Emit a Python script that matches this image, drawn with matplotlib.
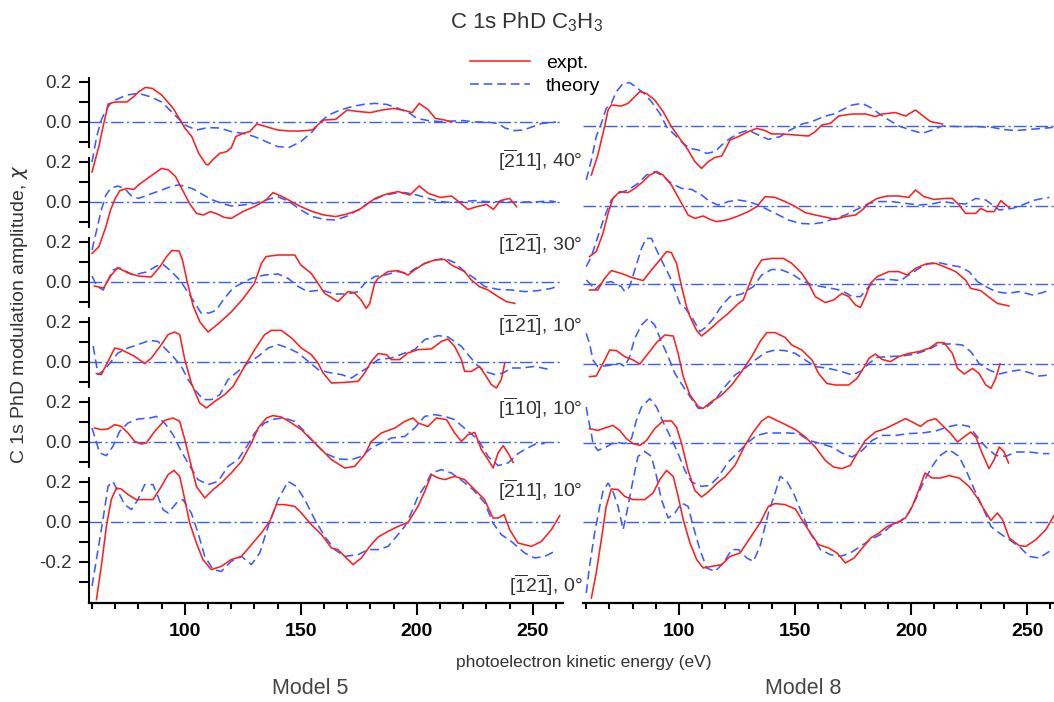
import matplotlib
matplotlib.use('Agg')
import matplotlib.pyplot as plt
from matplotlib.ticker import FixedLocator
import numpy as np

plt.rcParams['font.family'] = ['Liberation Sans', 'DejaVu Sans']
plt.rcParams['mathtext.default'] = 'regular'

RED = '#ff1f1f'
BLUE = '#3a5cff'
TXT = '#333333'

# ---- Model 5 (left), each curve as (energy eV, chi) pairs ----
m5_p1_expt = [(60, -0.25), (63, -0.12), (65, -0.01), (67, 0.09), (70, 0.10), (75, 0.10), (78, 0.127), (80, 0.15),
              (83, 0.173), (86, 0.168), (90, 0.135), (95, 0.068), (98, 0.01), (100, -0.03), (103, -0.073),
              (106, -0.157), (109, -0.21), (110, -0.215), (112, -0.19), (115, -0.157), (118, -0.148), (120, -0.13),
              (122, -0.073), (125, -0.057), (128, -0.048), (131, -0.01), (135, -0.023), (140, -0.04), (145, -0.045),
              (150, -0.045), (155, -0.04), (158, -0.007), (160, 0.01), (165, 0.013), (170, 0.06), (175, 0.052),
              (180, 0.047), (185, 0.06), (190, 0.068), (195, 0.057), (198, 0.047), (201, 0.093), (205, 0.06),
              (208, 0.018), (212, 0.01), (215, 0.0)]
m5_p1_theo = [(60, -0.2), (62, -0.073), (64, 0.01), (66, 0.06), (68, 0.093), (70, 0.11), (75, 0.135), (80, 0.143),
              (85, 0.127), (90, 0.10), (95, 0.043), (100, -0.015), (105, -0.04), (110, -0.028), (115, -0.03),
              (120, -0.048), (125, -0.057), (130, -0.073), (135, -0.098), (140, -0.123), (145, -0.127), (150, -0.098),
              (155, -0.048), (158, -0.003), (162, 0.035), (167, 0.06), (172, 0.077), (177, 0.088), (182, 0.093),
              (187, 0.088), (192, 0.068), (197, 0.043), (200, 0.018), (205, 0.007), (210, 0.002), (220, 0.007),
              (225, 0.0), (230, 0.0), (235, -0.007), (238, -0.03), (242, -0.043), (246, -0.04), (250, -0.023),
              (254, -0.007), (258, -0.003), (260, 0.0)]
m5_p2_expt = [(60, -0.257), (63, -0.223), (66, -0.123), (68, -0.04), (70, 0.018), (72, 0.057), (75, 0.068), (78, 0.063),
              (80, 0.085), (85, 0.127), (88, 0.152), (90, 0.168), (93, 0.16), (96, 0.127), (99, 0.06), (102, -0.007),
              (105, -0.057), (108, -0.065), (111, -0.048), (114, -0.06), (117, -0.077), (120, -0.082), (125, -0.048),
              (130, -0.023), (135, 0.01), (138, 0.047), (142, 0.027), (146, 0.002), (150, -0.023), (155, -0.048),
              (160, -0.065), (165, -0.073), (170, -0.06), (175, -0.04), (178, -0.015), (182, 0.018), (187, 0.04),
              (192, 0.052), (197, 0.035), (201, 0.08), (205, 0.043), (210, 0.023), (215, 0.03), (218, 0.002),
              (222, -0.037), (226, -0.023), (230, -0.012), (233, -0.037), (236, 0.007), (240, 0.018), (243, -0.023)]
m5_p2_theo = [(60, -0.24), (62, -0.14), (64, -0.04), (66, 0.035), (68, 0.068), (71, 0.08), (74, 0.068), (77, 0.03),
              (80, 0.018), (83, 0.03), (86, 0.043), (90, 0.06), (94, 0.077), (97, 0.085), (100, 0.08), (104, 0.063),
              (108, 0.035), (112, 0.01), (116, -0.007), (120, -0.02), (125, -0.015), (130, -0.007), (135, 0.01),
              (140, 0.027), (145, 0.002), (150, -0.04), (155, -0.073), (160, -0.087), (165, -0.09), (170, -0.07),
              (175, -0.037), (180, 0.002), (185, 0.03), (190, 0.043), (195, 0.047), (200, 0.035), (205, 0.018),
              (210, 0.002), (215, -0.003), (220, 0.002), (225, 0.007), (230, 0.002), (240, 0.0), (250, 0.0),
              (258, 0.005), (260, 0.0)]
m5_p3_expt = [(61, -0.02), (65, -0.03), (68, 0.03), (71, 0.072), (75.5, 0.045), (80, 0.03), (85.5, 0.025), (89.5, 0.08),
              (92, 0.125), (94.5, 0.158), (97.5, 0.155), (99, 0.11), (101, 0.003), (103.6, -0.12), (106.5, -0.2),
              (110, -0.25), (114.3, -0.21), (120, -0.15), (125, -0.085), (130, -0.007), (133, 0.093), (135, 0.127),
              (140, 0.135), (147.4, 0.135), (150, 0.085), (154.5, 0.043), (157.4, -0.007), (160.3, -0.057),
              (166, -0.098), (170.3, -0.048), (173, -0.053), (176, -0.09), (178.2, -0.132), (179.7, -0.107),
              (181.8, -0.007), (183.3, 0.018), (187.6, 0.052), (191.9, 0.057), (196.2, 0.035), (199, 0.06),
              (203.4, 0.093), (207.7, 0.11), (212, 0.113), (214.9, 0.085), (220.6, 0.052), (223.5, 0.01),
              (227, -0.023), (230.7, -0.04), (235, -0.073), (238.6, -0.098), (242.2, -0.107)]
m5_p3_theo = [(60, 0.03), (62, -0.02), (64.8, -0.04), (69, 0.06), (72, 0.07), (77.7, 0.035), (83.5, 0.05), (87.8, 0.08),
              (90.6, 0.088), (93.5, 0.06), (97.8, 0.01), (100.7, -0.04), (104.3, -0.105), (107, -0.155), (110.7, -0.155),
              (113.6, -0.14), (116.5, -0.09), (120.8, -0.03), (124.4, -0.007), (128.7, 0.018), (134.4, 0.035),
              (140.2, 0.04), (144.5, 0.018), (148.9, -0.023), (153, -0.048), (158.8, -0.04), (164.6, -0.06),
              (170.3, -0.06), (174.7, -0.048), (177.5, -0.007), (181.8, 0.027), (186.2, 0.035), (191.9, 0.052),
              (196.2, 0.043), (200.5, 0.077), (206.3, 0.107), (212, 0.118), (216.3, 0.097), (220.6, 0.052),
              (224.9, 0.018), (229.3, -0.023), (235, -0.037), (240.7, -0.04), (246.5, -0.048), (252.2, -0.043),
              (258, -0.032), (260, -0.023)]
m5_p4_expt = [(61.9, -0.058), (64, -0.063), (66.9, 0.003), (69.8, 0.07), (72.6, 0.062), (78.4, 0.028), (82.7, -0.008),
              (85.6, 0.02), (89.9, 0.087), (92.8, 0.137), (95.6, 0.15), (97.8, 0.137), (100, 0.012), (102.8, -0.105),
              (106.4, -0.205), (109.3, -0.23), (112.9, -0.197), (117.2, -0.163), (120.8, -0.122), (125.8, -0.022),
              (130.1, 0.062), (134.4, 0.137), (137.3, 0.158), (141.6, 0.158), (146, 0.12), (150.2, 0.07),
              (154.5, 0.037), (157.4, -0.005), (159.6, -0.055), (163.2, -0.105), (168.9, -0.102), (174.7, -0.097),
              (177.5, -0.055), (180.4, 0.003), (183.3, 0.042), (186.9, 0.037), (189, 0.012), (192.6, 0.012),
              (196.2, 0.045), (200.5, 0.062), (206.3, 0.065), (210.6, 0.103), (213.4, 0.115), (216.3, 0.078),
              (219.2, 0.012), (220.6, -0.047), (223.5, -0.047), (227, -0.022), (229.9, -0.072), (232.1, -0.113),
              (234.3, -0.13), (236.4, -0.088), (237.9, -0.005)]
m5_p4_theo = [(60.5, 0.08), (62.6, -0.063), (65.5, -0.038), (68.3, 0.003), (71.2, 0.045), (75.5, 0.07), (79.8, 0.087),
              (84.9, 0.108), (88.4, 0.103), (91.3, 0.07), (94.9, 0.028), (98.5, -0.022), (101.4, -0.088),
              (104.3, -0.138), (107.9, -0.188), (111.5, -0.188), (115.1, -0.163), (118.6, -0.088), (122.9, -0.047),
              (127.2, -0.005), (131.6, 0.028), (135.9, 0.07), (140.2, 0.087), (144.5, 0.07), (148.9, 0.045),
              (153.2, 0.003), (157.5, -0.038), (161.8, -0.052), (167.5, -0.063), (171.8, -0.08), (176.2, -0.047),
              (179.7, -0.022), (183.3, 0.012), (189, 0.02), (194.8, 0.045), (199.1, 0.062), (203.4, 0.112),
              (209.2, 0.132), (213.5, 0.125), (219.2, 0.078), (222.1, 0.037), (225.7, -0.013), (229.3, -0.047),
              (233.6, -0.063), (237.2, -0.055), (240.8, -0.03), (245.1, -0.03), (250.8, -0.022), (257.3, -0.038)]
m5_p5_expt = [(61.1, 0.07), (64, 0.062), (66.9, 0.065), (69.8, 0.087), (72.6, 0.078), (75.5, 0.045), (78.4, 0.003),
              (81.3, -0.01), (83.4, -0.005), (87, 0.053), (91.3, 0.108), (94.9, 0.12), (97.8, 0.103), (100, 0.012),
              (102.1, -0.088), (105, -0.222), (108.6, -0.28), (112.2, -0.238), (115.7, -0.205), (120, -0.155),
              (124.4, -0.097), (128.7, -0.005), (131.6, 0.07), (135.2, 0.12), (138, 0.132), (141.6, 0.125),
              (146, 0.095), (150.2, 0.062), (154.5, 0.012), (158.9, -0.038), (163.2, -0.088), (168.9, -0.13),
              (173.2, -0.122), (177.5, -0.063), (180.4, 0.003), (184.7, 0.045), (190.5, 0.07), (194.8, 0.103),
              (198.4, 0.12), (200.5, 0.095), (204.8, 0.078), (208.4, 0.12), (212.8, 0.112), (216.3, 0.045),
              (219.2, 0.003), (222.1, 0.037), (225, 0.048), (227.8, -0.038), (230.7, -0.088), (232.9, -0.13),
              (235, -0.055), (237.2, -0.018), (239.3, -0.055), (241.5, -0.102)]
m5_p5_theo = [(60, 0.07), (63.3, -0.055), (66.2, -0.068), (69, -0.022), (71.9, 0.053), (75.5, 0.095), (79.8, 0.115),
              (84.9, 0.12), (87.7, 0.128), (91.3, 0.095), (94.9, 0.037), (98.5, -0.047), (101.4, -0.105),
              (105.7, -0.188), (110, -0.213), (114.3, -0.197), (118.6, -0.122), (122.9, -0.088), (127.2, -0.013),
              (130.1, 0.045), (134.4, 0.095), (138.7, 0.115), (143, 0.12), (147.3, 0.103), (151.6, 0.053),
              (155.9, -0.005), (160.3, -0.055), (166, -0.085), (171.8, -0.088), (176.1, -0.072), (180.4, -0.03),
              (184.7, -0.005), (189, 0.02), (194.8, 0.028), (199.1, 0.07), (203.4, 0.128), (207.7, 0.137),
              (212, 0.128), (216.3, 0.112), (222.1, 0.053), (226.4, 0.012), (230.7, -0.072), (235, -0.118),
              (239.3, -0.105), (243.6, -0.058), (246.5, -0.038), (251.5, -0.008), (255.1, -0.008)]
m5_p6_expt = [(61.9, -0.388), (64, -0.222), (66.2, -0.022), (68.3, 0.112), (70.5, 0.17), (72.6, 0.165), (75.5, 0.137),
              (79.1, 0.112), (82.7, 0.112), (86.3, 0.112), (89.9, 0.178), (92.8, 0.237), (95.3, 0.258), (97.8, 0.228),
              (100, 0.112), (102.1, -0.005), (105, -0.105), (107.8, -0.188), (111.4, -0.238), (115.7, -0.222),
              (120, -0.188), (124.4, -0.172), (128.7, -0.113), (133, -0.055), (136.6, 0.003), (139.5, 0.087),
              (143, 0.087), (147.4, 0.078), (150.2, 0.045), (154.5, -0.013), (158.9, -0.063), (163.2, -0.13),
              (166, -0.138), (169.6, -0.18), (172.5, -0.213), (176.1, -0.18), (179.7, -0.122), (183.3, -0.075),
              (187.6, -0.047), (191.9, -0.022), (196.2, -0.002), (200.5, 0.078), (203.4, 0.153), (206.3, 0.237),
              (209.2, 0.22), (212.1, 0.212), (216.3, 0.228), (220.6, 0.212), (224.9, 0.162), (229.2, 0.112),
              (232.8, 0.02), (235, 0.02), (237.6, 0.037), (240, -0.038), (243.6, -0.105), (249.4, -0.122),
              (253.7, -0.097), (258, -0.038), (261.6, 0.032)]
m5_p6_theo = [(60, -0.32), (62.6, -0.138), (64.7, 0.012), (66.9, 0.178), (69, 0.203), (71.2, 0.153), (74.1, 0.087),
              (77, 0.062), (79.8, 0.112), (82.7, 0.187), (86.3, 0.187), (88.4, 0.128), (90.6, 0.062), (92.8, 0.045),
              (96.4, 0.095), (99.2, 0.112), (102.8, 0.045), (105.7, -0.055), (108.6, -0.172), (112.2, -0.238),
              (115.7, -0.247), (120, -0.197), (124.4, -0.172), (128.7, -0.213), (132.3, -0.155), (135.9, -0.022),
              (140.2, 0.112), (144.5, 0.203), (148.1, 0.178), (151.7, 0.112), (156, 0.012), (160.3, -0.072),
              (164.6, -0.138), (168.9, -0.172), (174.7, -0.163), (179, -0.138), (183.3, -0.138), (187.6, -0.122),
              (191.9, -0.063), (194.8, -0.022), (197.6, 0.045), (200.5, 0.128), (203.4, 0.178), (206.3, 0.245),
              (210.6, 0.262), (214.9, 0.245), (219.9, 0.203), (224.2, 0.162), (229.3, 0.095), (232.8, -0.005),
              (236.4, -0.063), (240.7, -0.097), (246.5, -0.155), (250.8, -0.18), (255.1, -0.172), (259.4, -0.147)]

# ---- Model 8 (right) ----
m8_p1_expt = [(62.2, -0.245), (65, -0.145), (67.9, -0.003), (69.4, 0.08), (70.8, 0.105), (75.1, 0.1), (78, 0.113),
              (80.9, 0.147), (83.1, 0.172), (85.9, 0.163), (89.5, 0.13), (93.1, 0.072), (96.7, -0.003),
              (100.3, -0.062), (103.9, -0.12), (106.8, -0.178), (109.7, -0.212), (112.6, -0.178), (115.5, -0.157),
              (118.4, -0.15), (122, -0.07), (125.6, -0.053), (129.9, -0.028), (133.5, -0.012), (137.1, -0.023),
              (140, -0.04), (144.3, -0.04), (150.1, -0.045), (155.8, -0.05), (158.7, -0.028), (161.6, 0.005),
              (165.2, 0.013), (168.8, 0.05), (174.6, 0.06), (180.3, 0.06), (184.6, 0.047), (187.5, 0.06),
              (193.3, 0.067), (197.6, 0.05), (201.9, 0.08), (205.5, 0.047), (208.4, 0.022), (213.5, 0.01)]
m8_p1_theo = [(60, -0.27), (62.2, -0.17), (64.3, -0.053), (66.5, 0.013), (68.6, 0.088), (70.8, 0.113), (73, 0.172),
              (75.9, 0.213), (78.7, 0.217), (81.6, 0.193), (84.5, 0.167), (88.1, 0.122), (91.7, 0.063), (94.6, -0.003),
              (98.2, -0.045), (101.8, -0.087), (104.7, -0.112), (108.3, -0.12), (111.9, -0.137), (115.5, -0.128),
              (118.4, -0.095), (122, -0.062), (125.6, -0.037), (129.9, -0.02), (134.2, -0.045), (138.5, -0.067),
              (143.6, -0.053), (147.9, -0.02), (153, 0.01), (157.3, 0.022), (162.3, 0.047), (166.6, 0.06),
              (170.2, 0.08), (174.6, 0.105), (178.9, 0.113), (182.5, 0.093), (186.1, 0.063), (190.4, 0.03),
              (194.7, 0.0), (199.8, -0.02), (204.8, -0.037), (209.1, -0.02), (213.5, 0.0), (220.7, -0.003),
              (227.9, -0.003), (235.1, -0.007), (239.4, -0.017), (245.2, -0.023), (250.9, -0.017), (256.7, -0.012),
              (261, -0.007)]
m8_p2_expt = [(61.4, -0.253), (64.3, -0.228), (67.2, -0.137), (69.4, -0.037), (71.5, 0.038), (74.4, 0.072), (78, 0.067),
              (80.9, 0.088), (84.5, 0.122), (87.4, 0.155), (90.3, 0.172), (93.1, 0.155), (96.7, 0.105), (100.3, 0.03),
              (103.9, -0.045), (106.8, -0.062), (110.4, -0.05), (113.3, -0.067), (116.2, -0.078), (120.5, -0.07),
              (124.8, -0.053), (129.9, -0.028), (133.5, -0.003), (137.1, 0.047), (141.4, 0.043), (145.7, 0.022),
              (150.1, -0.003), (154.4, -0.033), (158.7, -0.045), (163.7, -0.057), (167.3, -0.067), (171.7, -0.053),
              (176, -0.045), (178.9, -0.02), (181.8, 0.013), (185.4, 0.038), (189.7, 0.05), (194.7, 0.05), (199, 0.043),
              (201.9, 0.08), (205.5, 0.047), (209.9, 0.033), (214.9, 0.038), (217.8, 0.038), (220.7, 0.005),
              (223.5, -0.037), (227.9, -0.037), (230, -0.012), (232.9, -0.028), (235.8, -0.028), (238.7, 0.027),
              (240.8, 0.005), (242.3, -0.007)]
m8_p2_theo = [(60, -0.303), (62.2, -0.253), (65, -0.153), (67.9, -0.053), (70.8, 0.03), (73.7, 0.063), (78, 0.08),
              (82.3, 0.113), (86, 0.155), (89.5, 0.172), (93.1, 0.15), (96.7, 0.113), (101.1, 0.088), (105.4, 0.083),
              (109.7, 0.055), (113.3, 0.022), (116.9, 0.005), (121.2, 0.022), (125.6, 0.03), (129.9, 0.022),
              (134.2, 0.005), (138.5, -0.02), (142.9, -0.045), (147.2, -0.07), (152.2, -0.087), (157.3, -0.09),
              (161.6, -0.083), (165.9, -0.067), (171.7, -0.045), (176.7, -0.017), (181.8, 0.013), (186.1, 0.022),
              (191.8, 0.022), (197.6, 0.013), (203.4, 0.005), (209.1, 0.01), (213.5, 0.022), (219.2, 0.013),
              (223.5, 0.01), (227.9, 0.038), (232.2, 0.03), (238, -0.02), (243.7, -0.012), (248, 0.005),
              (252.4, 0.027), (256.7, 0.038), (259.6, 0.043)]
m8_p3_expt = [(61.4, -0.03), (65, -0.03), (67.9, 0.028), (70.8, 0.067), (75.1, 0.053), (79.5, 0.033), (84.5, 0.017),
              (88.1, 0.07), (91.7, 0.12), (94.6, 0.162), (96.7, 0.157), (98.9, 0.103), (101.1, -0.013), (103.2, -0.113),
              (104.7, -0.163), (107.6, -0.233), (109.7, -0.26), (112.6, -0.233), (116.9, -0.188), (121.2, -0.147),
              (125.6, -0.097), (127.7, -0.08), (129.9, -0.013), (132.8, 0.07), (135.6, 0.12), (140, 0.128),
              (145, 0.128), (148.6, 0.103), (152.9, 0.053), (155.8, 0.003), (158.7, -0.063), (163, -0.093),
              (166.6, -0.08), (170.2, -0.047), (173.1, -0.063), (176, -0.105), (178.2, -0.117), (180.3, -0.063),
              (182.5, 0.003), (185.4, 0.037), (190.4, 0.062), (194.7, 0.062), (198.3, 0.045), (201.9, 0.078),
              (206.3, 0.1), (210.6, 0.103), (214.2, 0.087), (219.2, 0.062), (223.5, 0.02), (225.7, -0.022),
              (230, -0.033), (234.3, -0.072), (237.2, -0.097), (242.2, -0.11)]
m8_p3_theo = [(60, 0.02), (62.2, -0.005), (63.6, -0.03), (66.5, 0.003), (70.8, 0.012), (75.1, -0.013), (76.6, -0.038),
              (78.7, -0.013), (80.9, 0.07), (83.8, 0.178), (85.9, 0.228), (88.1, 0.228), (90.3, 0.17), (93.1, 0.103),
              (96, 0.037), (98.2, -0.03), (100.3, -0.097), (102.5, -0.12), (105.4, -0.163), (109, -0.238),
              (111.9, -0.213), (114.8, -0.172), (117.6, -0.122), (119.8, -0.09), (122, -0.063), (127, -0.05),
              (132, -0.013), (135.6, 0.045), (140, 0.073), (144.3, 0.07), (148.6, 0.05), (152.9, 0.017),
              (157.3, -0.005), (161.6, -0.013), (165.9, -0.022), (170.2, -0.033), (174.6, -0.063), (178.2, -0.063),
              (181.8, -0.013), (185.4, 0.023), (190.4, 0.023), (195.4, 0.017), (199, 0.045), (203.4, 0.078),
              (207.7, 0.103), (212, 0.107), (216.3, 0.095), (220.7, 0.087), (225, 0.062), (228.6, 0.012),
              (232.2, -0.013), (236.5, -0.038), (241.6, -0.047), (246.6, -0.038), (252.4, -0.055), (256.7, -0.043),
              (259.6, -0.03)]
m8_p4_expt = [(61.4, -0.063), (64.3, -0.06), (67.2, 0.003), (70.1, 0.07), (73, 0.067), (76.6, 0.037), (80.2, 0.02),
              (83.1, 0.0), (86.7, 0.053), (90.3, 0.107), (93.9, 0.145), (97.5, 0.14), (99.6, 0.053), (101.8, -0.063),
              (104.7, -0.155), (108.3, -0.213), (110.4, -0.222), (114, -0.188), (118.4, -0.155), (122.7, -0.105),
              (127, -0.038), (131.3, 0.037), (134.9, 0.112), (137.8, 0.157), (141.4, 0.157), (145.7, 0.133),
              (148.6, 0.095), (152.9, 0.07), (157.3, 0.02), (160.1, -0.047), (163.7, -0.097), (167.3, -0.105),
              (173.1, -0.105), (176.7, -0.072), (180.3, -0.005), (181.8, 0.028), (184.6, 0.05), (187.5, 0.023),
              (191.1, 0.012), (194.7, 0.037), (199, 0.053), (203.4, 0.062), (207.7, 0.078), (211.3, 0.107),
              (214.2, 0.107), (217.8, 0.053), (220, -0.022), (222.9, -0.05), (226.5, -0.022), (229.3, -0.047),
              (232.2, -0.105), (234.4, -0.122), (236.5, -0.072), (238.3, 0.0)]
m8_p4_theo = [(60, 0.153), (61.4, 0.103), (62.9, 0.02), (65, -0.013), (67.9, -0.01), (70.8, -0.005), (74.4, 0.003),
              (76.6, -0.013), (78.7, 0.037), (80.9, 0.128), (83.8, 0.195), (86.7, 0.228), (89.5, 0.195), (92.4, 0.112),
              (95.3, 0.037), (98.2, -0.047), (101.8, -0.113), (104.7, -0.163), (108.3, -0.222), (111.2, -0.222),
              (115.5, -0.18), (119.8, -0.113), (124.1, -0.055), (128.4, -0.022), (132.8, 0.02), (137.1, 0.057),
              (141.4, 0.07), (145.7, 0.067), (150.1, 0.053), (154.4, 0.02), (158.7, -0.013), (164.5, -0.022),
              (170.2, -0.038), (174.6, -0.055), (178.9, -0.033), (181.8, 0.003), (185.4, 0.033), (190.4, 0.037),
              (196.2, 0.04), (201.9, 0.05), (207.7, 0.073), (212, 0.1), (217.8, 0.1), (222.1, 0.095), (225.7, 0.062),
              (229.3, 0.003), (233.6, -0.03), (238, -0.05), (242.3, -0.038), (246.6, -0.03), (250.9, -0.043),
              (255.2, -0.06), (259.6, -0.055)]
m8_p5_expt = [(61.4, 0.072), (65, 0.063), (68.6, 0.077), (71.5, 0.088), (74.4, 0.063), (77.3, 0.022), (80.2, -0.003),
              (83.1, -0.012), (86, 0.013), (89.5, 0.072), (93.1, 0.11), (96.7, 0.11), (98.9, 0.08), (101.1, -0.003),
              (103.9, -0.137), (106.8, -0.237), (109.7, -0.27), (112.6, -0.245), (116.2, -0.203), (119.8, -0.17),
              (124.1, -0.112), (128.4, -0.012), (132, 0.055), (135.6, 0.11), (138.5, 0.133), (142.1, 0.113),
              (145.7, 0.093), (150.1, 0.067), (154.4, 0.03), (158.7, -0.02), (163, -0.087), (166.6, -0.12),
              (170.2, -0.128), (173.8, -0.112), (176.7, -0.053), (180.3, 0.013), (184.6, 0.055), (189, 0.072),
              (193.3, 0.097), (197.6, 0.122), (200.5, 0.105), (204.1, 0.083), (207, 0.11), (210.6, 0.122),
              (213.5, 0.088), (217.1, 0.047), (220, 0.005), (222.8, 0.03), (225.7, 0.055), (227.9, 0.03),
              (230.7, -0.053), (233.6, -0.128), (235.8, -0.083), (238, -0.02), (240.1, -0.045), (242, -0.1)]
m8_p5_theo = [(60, 0.18), (60.7, 0.13), (62.2, 0.047), (62.9, -0.003), (65, -0.037), (68.6, -0.02), (72.2, 0.005),
              (76.6, -0.003), (79.5, 0.022), (81.6, 0.113), (83.8, 0.18), (87.4, 0.222), (90.3, 0.18), (93.1, 0.105),
              (96.7, 0.022), (99.6, -0.053), (102.5, -0.137), (105.4, -0.195), (109.7, -0.217), (113.3, -0.212),
              (116.9, -0.17), (121.2, -0.095), (125.6, -0.045), (129.9, 0.005), (133.5, 0.038), (137.8, 0.05),
              (142.9, 0.05), (147.2, 0.05), (151.5, 0.047), (155.9, 0.013), (160.1, 0.0), (165.9, -0.02),
              (170.2, -0.05), (174.6, -0.07), (178.9, -0.037), (183.2, 0.013), (187.5, 0.038), (193.3, 0.038),
              (199, 0.047), (204.8, 0.05), (210.6, 0.06), (215.6, 0.08), (220.7, 0.093), (225, 0.083), (228.6, 0.03),
              (232.2, -0.02), (236.5, -0.062), (240.8, -0.067), (245.1, -0.045), (250.9, -0.045), (256.7, -0.053),
              (259.6, -0.053)]
m8_p6_expt = [(62.2, -0.38), (64.3, -0.255), (66.5, -0.088), (68.6, 0.078), (70.8, 0.165), (73.7, 0.162), (76.6, 0.128),
              (80.2, 0.112), (85.2, 0.112), (88.8, 0.145), (91.7, 0.212), (94.6, 0.258), (97.5, 0.228), (99.6, 0.128),
              (101.8, 0.012), (104.7, -0.105), (107.6, -0.188), (110.4, -0.23), (114, -0.222), (118.4, -0.213),
              (122, -0.172), (126.3, -0.155), (130.6, -0.08), (134.9, -0.005), (138.5, 0.078), (141.4, 0.092),
              (145.7, 0.087), (150.1, 0.065), (152.9, 0.012), (156.6, -0.055), (160.1, -0.113), (164.5, -0.13),
              (168.1, -0.155), (171.7, -0.205), (175.4, -0.18), (179, -0.13), (182.6, -0.08), (186.2, -0.055),
              (189.7, -0.022), (194.1, -0.002), (197.6, 0.02), (200.5, 0.078), (203.4, 0.162), (206, 0.245),
              (209.1, 0.22), (212.7, 0.22), (216.3, 0.232), (220.7, 0.22), (225, 0.178), (228.6, 0.12),
              (231.5, 0.062), (234.4, 0.008), (237.2, 0.045), (239.4, 0.012), (242.3, -0.08), (246.6, -0.118),
              (249.5, -0.122), (253.8, -0.088), (258.1, -0.038), (261.6, 0.032)]
m8_p6_theo = [(60, -0.355), (61.4, -0.222), (63.6, -0.055), (65.8, 0.078), (67.2, 0.153), (69.4, 0.195), (71.5, 0.153),
              (73.7, 0.078), (75.9, -0.038), (78, 0.078), (80.2, 0.212), (82.3, 0.328), (85.2, 0.353), (88.1, 0.328),
              (90.3, 0.228), (92.4, 0.112), (95.3, 0.02), (98.2, 0.045), (101.1, 0.095), (103.9, 0.078),
              (106.1, -0.022), (109, -0.138), (111.9, -0.23), (115.5, -0.247), (119.1, -0.205), (122.7, -0.138),
              (125.6, -0.138), (129.2, -0.18), (132, -0.197), (134.9, -0.122), (138.5, 0.045), (141.4, 0.145),
              (143.6, 0.228), (146.5, 0.203), (149.3, 0.145), (152.9, 0.045), (156.5, -0.055), (160.9, -0.138),
              (165.2, -0.163), (169.5, -0.172), (173.8, -0.155), (178.2, -0.122), (182.5, -0.088), (186.8, -0.063),
              (191.1, -0.022), (195.4, 0.003), (199, 0.045), (201.9, 0.112), (205.5, 0.203), (209.1, 0.278),
              (212, 0.328), (216.3, 0.362), (220.7, 0.328), (224.2, 0.245), (227.9, 0.145), (230.7, 0.078),
              (234.4, -0.022), (238, -0.055), (242.3, -0.088), (247.3, -0.13), (250.9, -0.172), (255.2, -0.18),
              (259.6, -0.147)]

M5_EXPT = [m5_p1_expt, m5_p2_expt, m5_p3_expt, m5_p4_expt, m5_p5_expt, m5_p6_expt]
M5_THEO = [m5_p1_theo, m5_p2_theo, m5_p3_theo, m5_p4_theo, m5_p5_theo, m5_p6_theo]
M8_EXPT = [m8_p1_expt, m8_p2_expt, m8_p3_expt, m8_p4_expt, m8_p5_expt, m8_p6_expt]
M8_THEO = [m8_p1_theo, m8_p2_theo, m8_p3_theo, m8_p4_theo, m8_p5_theo, m8_p6_theo]

PANEL_LABELS = [r'[$\overline{2}$11], 40°', r'[$\overline{1}$2$\overline{1}$], 30°', r'[$\overline{1}$2$\overline{1}$], 10°',
                r'[$\overline{1}$10], 10°', r'[$\overline{2}$11], 10°', r'[$\overline{1}$2$\overline{1}$], 0°']
LABEL_Y = [-0.19, -0.61, -1.015, -1.43, -1.84, -2.315]

# vertical stacking of the six panels (chi units)
OFFSETS_M5 = [0.0, -0.4, -0.8, -1.2, -1.6, -2.0]
OFFSETS_M8 = [-0.02, -0.42, -0.81, -1.21, -1.605, -2.0]
YLIM = (-2.405, 0.25)

W, H = 1054, 702
fig = plt.figure(figsize=(W / 100, H / 100), dpi=100)
ax5 = fig.add_axes([89 / W, 99 / H, 474 / W, 531 / H])
ax8 = fig.add_axes([583 / W, 99 / H, 471 / W, 531 / H])

ZERO_DASH = (9, 2.5, 1.5, 2.5)
THEO_DASH = (5.5, 3)
LW = 1.15


def draw_model(ax, expts, theos, offsets, xlim):
    lines = []
    for expt, theo, off in zip(expts, theos, offsets):
        ax.axhline(off, color=BLUE, lw=1.0, dashes=ZERO_DASH, zorder=1)
        t = np.asarray(theo)
        lt, = ax.plot(t[:, 0], t[:, 1] + off, color=BLUE, lw=LW, dashes=THEO_DASH, zorder=2)
        e = np.asarray(expt)
        le, = ax.plot(e[:, 0], e[:, 1] + off, color=RED, lw=LW, zorder=3)
        lines.append((le, lt))
    ax.set_xlim(xlim)
    ax.set_ylim(YLIM)
    for s in ['left', 'top', 'right']:
        ax.spines[s].set_visible(False)
    ax.spines['bottom'].set_linewidth(1.6)
    ax.set_yticks([])
    ax.xaxis.set_major_locator(FixedLocator([100, 150, 200, 250]))
    ax.xaxis.set_minor_locator(FixedLocator(list(range(60, 261, 10))))
    ax.tick_params(axis='x', which='major', length=8.5, width=1.5, pad=6, labelsize=14)
    ax.tick_params(axis='x', which='minor', length=4.5, width=1.5)
    for lab in ax.get_xticklabels():
        lab.set_fontweight('bold')
    ax.patch.set_visible(False)
    return lines


lines5 = draw_model(ax5, M5_EXPT, M5_THEO, OFFSETS_M5, (58.7, 263.0))
draw_model(ax8, M8_EXPT, M8_THEO, OFFSETS_M8, (58.6, 261.6))

# separate left axis segments for each stacked panel of Model 5
for k, off in enumerate(OFFSETS_M5):
    sub = fig.add_axes(ax5.get_position())
    sub.set_ylim(YLIM[0] - off, YLIM[1] - off)
    sub.patch.set_visible(False)
    for s in ['top', 'right', 'bottom']:
        sub.spines[s].set_visible(False)
    sub.spines['left'].set_linewidth(1.5)
    sub.set_xticks([])
    if k < 5:
        sub.spines['left'].set_bounds(-0.125, 0.22)
        ticks = [-0.1, 0.0, 0.1, 0.2]
    else:
        sub.spines['left'].set_bounds(YLIM[0] - off, 0.22)
        ticks = [-0.3, -0.2, -0.1, 0.0, 0.1, 0.2]
    sub.set_yticks(ticks)
    sub.set_yticklabels([('%.1f' % t if abs(t) in (0.0, 0.2) else '') for t in ticks])
    sub.tick_params(axis='y', length=7, width=1.5, pad=5.5, labelsize=13.5, labelcolor=TXT)

for lab, y in zip(PANEL_LABELS, LABEL_Y):
    ax5.text(271.6, y, lab, ha='right', va='center', fontsize=14, color=TXT, clip_on=False, zorder=5)

fig.legend([lines5[0][0], lines5[0][1]], ['expt.', 'theory'], loc='upper left',
           bbox_to_anchor=(470 / W, 1 - 54 / H), frameon=False, fontsize=14, handlelength=3.1,
           handletextpad=0.8, labelspacing=0.3, borderpad=0, borderaxespad=0)

fig.text(527 / W, 1 - 28 / H, 'C 1s PhD C$_3$H$_3$', ha='center', va='baseline', fontsize=16, color=TXT)
fig.text(20 / W, 1 - 314 / H, r'C 1s PhD modulation amplitude, $\mathit{\chi}$', rotation=90, ha='center',
         va='center', fontsize=14, color=TXT)
fig.text(584 / W, 1 - 662 / H, 'photoelectron kinetic energy (eV)', ha='center', va='center', fontsize=12.5,
         color=TXT)
fig.text(310 / W, 1 - 688 / H, 'Model 5', ha='center', va='center', fontsize=15.5, color='#444444')
fig.text(803 / W, 1 - 688 / H, 'Model 8', ha='center', va='center', fontsize=15.5, color='#444444')

fig.savefig('out.png', dpi=100)
